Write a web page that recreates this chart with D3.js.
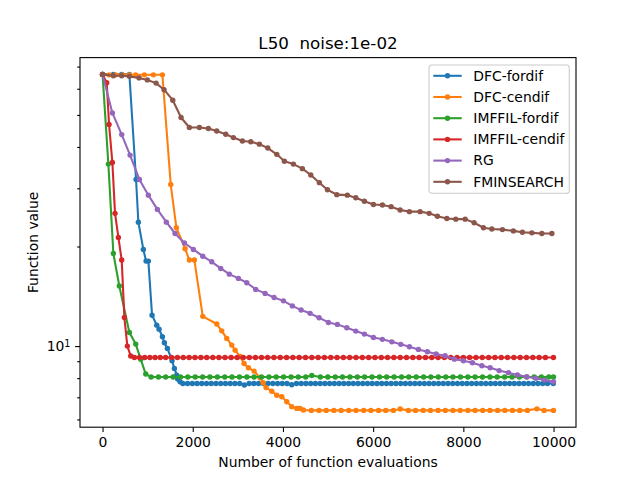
<!DOCTYPE html>
<html>
<head>
<meta charset="utf-8">
<script src="https://cdn.jsdelivr.net/npm/d3@7"></script>
<style>
  body { margin: 0; background: #fff; }
  text { font-family: "DejaVu Sans", sans-serif; }
</style>
</head>
<body>
<div id="chart"></div>
<script>
// Values: [evaluations, function value]
const dfcFordif = [
  [0, 66.3], [240, 66.3], [425, 66.3], [595, 66.3], [743, 31.9], [794, 23.7], [905, 19.6],
  [965, 18.07], [1016, 18.07], [1098, 12.4], [1202, 11.57], [1253, 11.25], [1327, 10.67],
  [1371, 10.23], [1438, 9.84], [1541, 9.03], [1593, 8.56], [1645, 8.17], [1667, 7.95], [1719, 7.8],
  [1780, 7.71], [1885, 7.71], [1990, 7.71], [2095, 7.71], [2200, 7.71], [2305, 7.71], [2410, 7.71],
  [2515, 7.71], [2620, 7.71], [2725, 7.71], [2830, 7.71], [2935, 7.71], [3040, 7.71], [3145, 7.63],
  [3250, 7.71], [3355, 7.71], [3460, 7.71], [3565, 7.71], [3670, 7.71], [3775, 7.71], [3880, 7.71],
  [3985, 7.71], [4090, 7.71], [4195, 7.64], [4300, 7.71], [4405, 7.71], [4510, 7.71], [4615, 7.71],
  [4720, 7.71], [4825, 7.71], [4930, 7.71], [5035, 7.71], [5140, 7.71], [5245, 7.71], [5350, 7.71],
  [5455, 7.71], [5560, 7.71], [5665, 7.71], [5770, 7.71], [5875, 7.71], [5980, 7.71], [6085, 7.71],
  [6190, 7.71], [6295, 7.71], [6400, 7.71], [6505, 7.71], [6610, 7.71], [6715, 7.71], [6820, 7.71],
  [6925, 7.71], [7030, 7.71], [7135, 7.71], [7240, 7.71], [7345, 7.71], [7450, 7.71], [7555, 7.71],
  [7660, 7.71], [7765, 7.71], [7870, 7.71], [7975, 7.71], [8080, 7.71], [8185, 7.71], [8290, 7.71],
  [8395, 7.71], [8500, 7.71], [8605, 7.71], [8710, 7.71], [8815, 7.71], [8920, 7.71], [9025, 7.71],
  [9130, 7.71], [9235, 7.71], [9340, 7.71], [9445, 7.71], [9550, 7.71], [9655, 7.71], [9760, 7.71],
  [9865, 7.71], [9995, 7.71]
];

const dfcCendif = [
  [0, 66.3], [144, 66.1], [292, 66.1], [440, 66.1], [595, 66.1], [736, 66.1], [927, 66.1],
  [1127, 66.1], [1327, 66.1], [1512, 30.8], [1637, 22.8], [1830, 19.7], [1925, 18.2], [2036, 18.2],
  [2222, 12.3], [2532, 11.66], [2643, 11.12], [2754, 10.55], [2865, 10.07], [2939, 9.72], [3049, 9.3],
  [3138, 8.86], [3234, 8.6], [3360, 8.4], [3493, 8.02], [3560, 7.75], [3626, 7.49], [3752, 7.3],
  [3863, 7.1], [3974, 7.03], [4085, 6.79], [4196, 6.56], [4307, 6.48], [4380, 6.48], [4454, 6.41],
  [4630, 6.39], [4800, 6.39], [4960, 6.39], [5130, 6.39], [5290, 6.39], [5460, 6.39], [5620, 6.39],
  [5790, 6.39], [5950, 6.39], [6120, 6.39], [6280, 6.39], [6450, 6.39], [6600, 6.45], [6780, 6.39],
  [6940, 6.39], [7110, 6.39], [7270, 6.39], [7440, 6.39], [7600, 6.39], [7770, 6.39], [7930, 6.39],
  [8100, 6.39], [8260, 6.39], [8430, 6.39], [8590, 6.39], [8760, 6.39], [8920, 6.39], [9090, 6.39],
  [9250, 6.39], [9420, 6.39], [9630, 6.46], [9790, 6.39], [9998, 6.39]
];

const imffilFordif = [
  [0, 66.3], [129, 35.5], [240, 19.05], [372, 15.2], [595, 10.99], [736, 10.14], [847, 9.12],
  [958, 8.23], [1076, 8.06], [1240, 8.06], [1400, 8.06], [1565, 8.06], [1730, 8.06], [1890, 8.06],
  [2055, 8.06], [2220, 8.06], [2380, 8.06], [2545, 8.06], [2710, 8.06], [2870, 8.06], [3035, 8.06],
  [3200, 8.06], [3360, 8.06], [3525, 8.06], [3690, 8.06], [3850, 8.06], [4015, 8.06], [4180, 8.06],
  [4340, 8.06], [4505, 8.06], [4640, 8.15], [4830, 8.06], [4995, 8.06], [5160, 8.06], [5320, 8.06],
  [5485, 8.06], [5650, 8.06], [5810, 8.06], [5975, 8.06], [6140, 8.06], [6300, 8.06], [6465, 8.06],
  [6630, 8.06], [6790, 8.06], [6955, 8.06], [7120, 8.06], [7280, 8.06], [7445, 8.06], [7610, 8.06],
  [7770, 8.06], [7935, 8.06], [8100, 8.06], [8260, 8.06], [8425, 8.06], [8590, 8.06], [8750, 8.06],
  [8915, 8.06], [9080, 8.06], [9240, 8.06], [9405, 8.06], [9570, 8.06], [9730, 8.06], [9895, 8.06],
  [9998, 8.06]
];

const imffilCendif = [
  [0, 66.3], [93, 62.6], [144, 46.8], [218, 35.9], [277, 25.2], [351, 21.3], [425, 18.2],
  [484, 12.2], [550, 10.0], [625, 9.33], [706, 9.24], [820, 9.24], [935, 9.24], [1050, 9.24],
  [1165, 9.24], [1280, 9.24], [1400, 9.24], [1530, 9.24], [1660, 9.24], [1790, 9.24], [1920, 9.24],
  [2050, 9.24], [2180, 9.24], [2310, 9.24], [2445, 9.24], [2580, 9.24], [2715, 9.24], [2850, 9.24],
  [2985, 9.24], [3120, 9.24], [3255, 9.24], [3390, 9.24], [3525, 9.24], [3660, 9.24], [3800, 9.24],
  [3940, 9.24], [4080, 9.24], [4220, 9.24], [4360, 9.24], [4500, 9.24], [4640, 9.24], [4780, 9.24],
  [4920, 9.24], [5060, 9.24], [5200, 9.24], [5340, 9.24], [5480, 9.24], [5620, 9.24], [5760, 9.24],
  [5900, 9.24], [6040, 9.24], [6180, 9.24], [6320, 9.24], [6460, 9.24], [6600, 9.24], [6740, 9.24],
  [6880, 9.24], [7020, 9.24], [7160, 9.24], [7300, 9.24], [7440, 9.24], [7580, 9.24], [7720, 9.24],
  [7860, 9.24], [8000, 9.24], [8140, 9.24], [8280, 9.24], [8420, 9.24], [8560, 9.24], [8700, 9.24],
  [8840, 9.24], [8980, 9.24], [9120, 9.24], [9260, 9.24], [9400, 9.24], [9540, 9.24], [9680, 9.24],
  [9820, 9.24], [9998, 9.24]
];

const rg = [
  [0, 66.3], [218, 50.7], [425, 43.6], [610, 37.8], [817, 31.9], [1016, 28.6], [1216, 25.9],
  [1415, 23.7], [1608, 21.9], [1815, 20.5], [2014, 19.6], [2222, 18.7], [2421, 17.98], [2621, 17.17],
  [2812, 16.5], [3012, 16.02], [3198, 15.54], [3397, 14.84], [3604, 14.43], [3803, 14.03],
  [4010, 13.7], [4209, 13.23], [4402, 12.85], [4602, 12.56], [4801, 12.18], [5008, 11.79],
  [5207, 11.63], [5416, 11.36], [5615, 11.1], [5806, 10.87], [6006, 10.62], [6205, 10.48],
  [6414, 10.3], [6613, 10.12], [6804, 9.95], [7004, 9.77], [7203, 9.61], [7396, 9.46], [7596, 9.35],
  [7802, 9.13], [8002, 9.03], [8201, 8.9], [8410, 8.72], [8594, 8.6], [8793, 8.43], [9000, 8.31],
  [9199, 8.18], [9408, 8.08], [9608, 7.99], [9798, 7.89], [9998, 7.8]
];

const fminsearch = [
  [0, 66.3], [240, 65.7], [425, 65.7], [595, 65.4], [810, 64.7], [994, 63.8], [1187, 62.4],
  [1364, 59.6], [1557, 55.4], [1741, 49.1], [1925, 45.8], [2147, 45.8], [2346, 45.5], [2532, 44.7],
  [2732, 43.7], [2901, 42.7], [3101, 41.7], [3287, 41.5], [3478, 40.8], [3664, 39.7], [3863, 38.0],
  [4032, 36.2], [4232, 35.5], [4431, 34.4], [4617, 32.9], [4808, 31.2], [4986, 29.7], [5194, 28.7],
  [5429, 28.6], [5615, 28.1], [5806, 27.4], [6006, 26.8], [6206, 26.7], [6398, 26.4], [6598, 25.8],
  [6804, 25.5], [7041, 25.5], [7241, 25.2], [7425, 24.7], [7634, 24.3], [7833, 24.2], [8040, 24.2],
  [8239, 23.6], [8446, 22.8], [8631, 22.6], [8867, 22.5], [9110, 22.3], [9310, 22.1], [9519, 22.0],
  [9741, 21.9], [9963, 21.9]
];

const seriesNames = ["DFC-fordif", "DFC-cendif", "IMFFIL-fordif", "IMFFIL-cendif", "RG", "FMINSEARCH"];
const seriesData = [dfcFordif, dfcCendif, imffilFordif, imffilCendif, rg, fminsearch];
const colors = ["#1f77b4", "#ff7f0e", "#2ca02c", "#d62728", "#9467bd", "#8c564b"];
const xTicks = [0, 2000, 4000, 6000, 8000, 10000];
const yMajor = [10];
const yMinor = [6, 7, 8, 9, 20, 30, 40, 50, 60, 70];

const W = 640, H = 480;
const margin = { top: 57.6, right: 64, bottom: 52.8, left: 80 };
const width = W - margin.left - margin.right;
const height = H - margin.top - margin.bottom;

const svg = d3.select("#chart").append("svg")
    .attr("width", W)
    .attr("height", H);

const g = svg.append("g")
    .attr("transform", `translate(${margin.left},${margin.top})`);

// matplotlib style 5% margins (log space for y)
const allPts = seriesData.flat();
const xExt = d3.extent(allPts, d => d[0]);
const xPad = (xExt[1] - xExt[0]) * 0.05;
const x = d3.scaleLinear().domain([xExt[0] - xPad, xExt[1] + xPad]).range([0, width]);

const yExt = d3.extent(allPts, d => Math.log10(d[1]));
const yPad = (yExt[1] - yExt[0]) * 0.05;
const y = d3.scaleLog()
    .domain([Math.pow(10, yExt[0] - yPad), Math.pow(10, yExt[1] + yPad)])
    .range([height, 0]);

// lines + markers
const line = d3.line().x(d => x(d[0])).y(d => y(d[1]));

seriesData.forEach((data, i) => {
    g.append("path")
        .datum(data)
        .attr("fill", "none")
        .attr("stroke", colors[i])
        .attr("stroke-width", 2.08)
        .attr("stroke-linejoin", "round")
        .attr("d", line);
    g.append("g")
        .selectAll("circle")
        .data(data)
        .enter()
        .append("circle")
        .attr("cx", d => x(d[0]))
        .attr("cy", d => y(d[1]))
        .attr("r", 2.7)
        .attr("fill", colors[i]);
});

// axes
const xAxis = g.append("g")
    .attr("transform", `translate(0,${height})`)
    .call(d3.axisBottom(x).tickValues(xTicks).tickFormat(d3.format("d")).tickSize(4.9).tickPadding(4.9).tickSizeOuter(0));

g.append("g")
    .call(d3.axisLeft(y).tickValues(yMinor).tickFormat("").tickSize(2.8).tickSizeOuter(0));

const yAxis = g.append("g")
    .call(d3.axisLeft(y).tickValues(yMajor).tickFormat("").tickSize(4.9).tickSizeOuter(0));

yAxis.selectAll(".tick").append("text")
    .attr("x", -9.5)
    .attr("dy", "0.32em")
    .attr("fill", "#000")
    .attr("text-anchor", "end")
    .style("font-size", "13.9px")
    .call(t => {
        t.append("tspan").text("10");
        t.append("tspan").attr("dy", "-0.45em").style("font-size", "9.7px").text("1");
    });

svg.selectAll(".domain").remove();
svg.selectAll(".tick line").attr("stroke", "#000").attr("stroke-width", 1.1);
xAxis.selectAll(".tick text").style("font-size", "13.9px").attr("fill", "#000");

// frame
g.append("rect")
    .attr("width", width)
    .attr("height", height)
    .attr("fill", "none")
    .attr("stroke", "#000")
    .attr("stroke-width", 1.1);

// labels
svg.append("text")
    .attr("x", margin.left + width / 2)
    .attr("y", 49)
    .attr("text-anchor", "middle")
    .style("font-size", "16.7px")
    .text("L50  noise:1e-02")
    .attr("xml:space", "preserve")
    .style("white-space", "pre");

svg.append("text")
    .attr("x", margin.left + width / 2)
    .attr("y", 467)
    .attr("text-anchor", "middle")
    .style("font-size", "13.9px")
    .text("Number of function evaluations");

svg.append("text")
    .attr("transform", `translate(38,${margin.top + height / 2}) rotate(-90)`)
    .attr("text-anchor", "middle")
    .style("font-size", "13.9px")
    .text("Function value");

// legend
const legend = svg.append("g").attr("transform", "translate(429,65)");
legend.append("rect")
    .attr("width", 140.3)
    .attr("height", 128.3)
    .attr("rx", 2.8)
    .attr("fill", "#fff")
    .attr("fill-opacity", 0.8)
    .attr("stroke", "#cccccc")
    .attr("stroke-width", 1.1);

seriesNames.forEach((name, i) => {
    const row = legend.append("g").attr("transform", `translate(0,${10.8 + i * 21.2})`);
    row.append("line")
        .attr("x1", 4.3).attr("x2", 32.7)
        .attr("stroke", colors[i])
        .attr("stroke-width", 2.08);
    row.append("circle")
        .attr("cx", 18.5)
        .attr("r", 2.7)
        .attr("fill", colors[i]);
    row.append("text")
        .attr("x", 44.3)
        .attr("dy", "0.35em")
        .style("font-size", "13.9px")
        .text(name);
});
</script>
</body>
</html>
